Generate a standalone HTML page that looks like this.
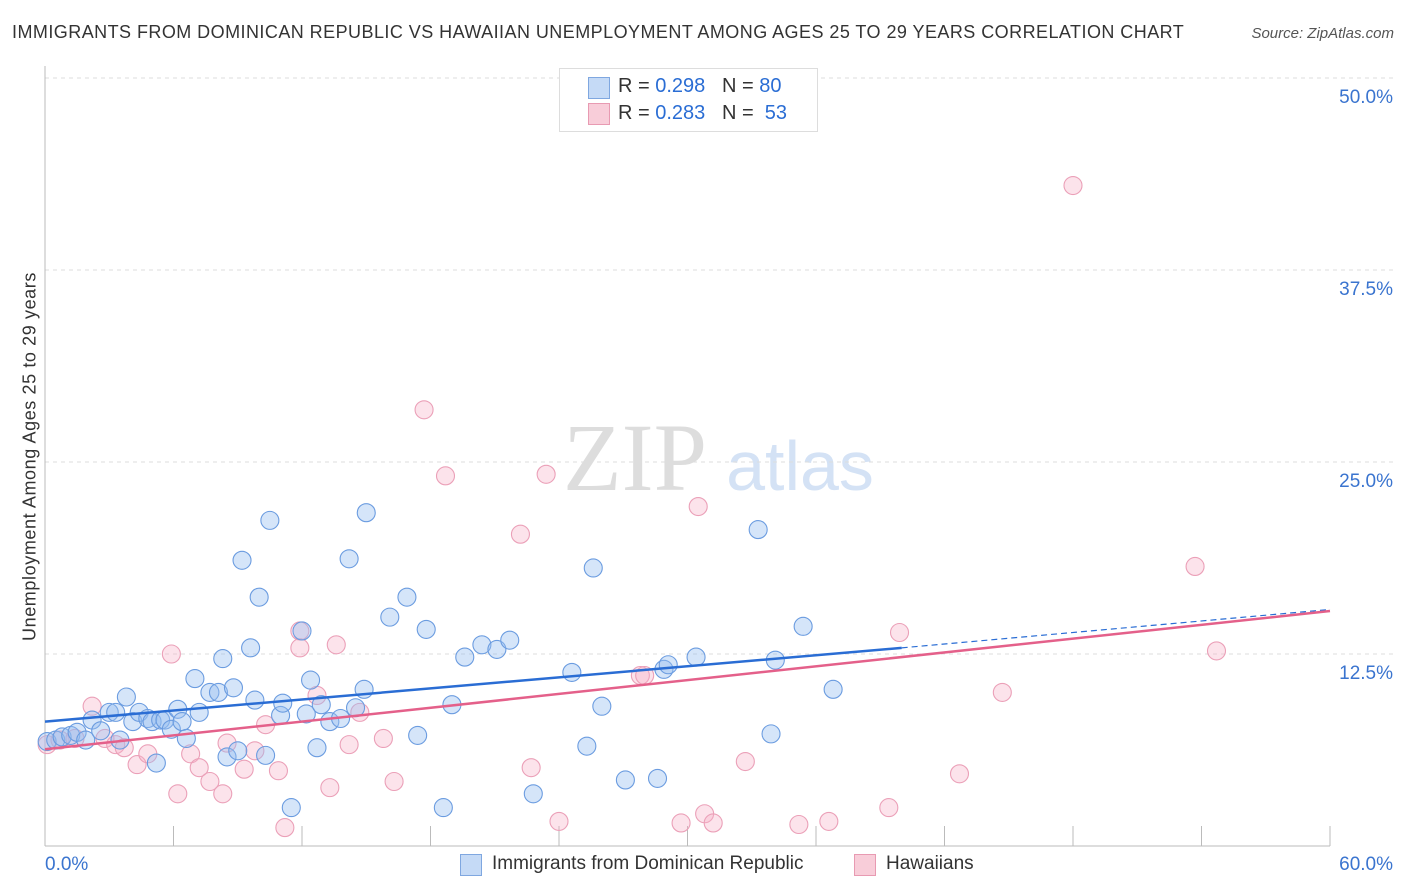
<!DOCTYPE html>
<html><head><meta charset="utf-8"><style>
body{margin:0;background:#fff;font-family:"Liberation Sans",sans-serif}
#wrap{position:relative;width:1406px;height:892px;overflow:hidden}
.t{position:absolute;white-space:nowrap}
</style></head><body>
<div id="wrap">
<div class="t" style="left:12px;top:22px;font-size:18px;color:#333;letter-spacing:0.45px">IMMIGRANTS FROM DOMINICAN REPUBLIC VS HAWAIIAN UNEMPLOYMENT AMONG AGES 25 TO 29 YEARS CORRELATION CHART</div>
<div class="t" style="right:12px;top:25px;font-size:15px;color:#555;font-style:italic">Source: ZipAtlas.com</div>
<div class="t" style="left:-170px;top:446px;width:400px;text-align:center;transform:rotate(-90deg);font-size:18px;letter-spacing:0.6px;color:#333">Unemployment Among Ages 25 to 29 years</div>
<svg id="plot" width="1406" height="892" style="position:absolute;left:0;top:0">
<text x="635" y="490" font-family="Liberation Serif" font-size="96" fill="#ddd" text-anchor="middle">ZIP</text>
<text x="800" y="490" font-family="Liberation Sans" font-size="70" fill="#d4e2f5" text-anchor="middle">atlas</text>
</svg>
<div style="position:absolute;left:559px;top:68px;width:257px;height:62px;border:1px solid #ddd;background:#fff;font-size:20px;color:#333">
 <div style="position:absolute;left:28px;top:8px;width:20px;height:20px;background:#c5daf6;border:1px solid #7fa7e0"></div>
 <div class="t" style="left:58px;top:6px">R = <span style="color:#2a6dd4">0.298</span> &nbsp;&nbsp;N = <span style="color:#2a6dd4">80</span></div>
 <div style="position:absolute;left:28px;top:34px;width:20px;height:20px;background:#f8cdd9;border:1px solid #e89ab2"></div>
 <div class="t" style="left:58px;top:33px">R = <span style="color:#2a6dd4">0.283</span> &nbsp;&nbsp;N = <span style="color:#2a6dd4">&nbsp;53</span></div>
</div>
<div style="position:absolute;left:460px;top:853px;font-size:19px;color:#333">
 <div style="position:absolute;left:0;top:1px;width:20px;height:20px;background:#c5daf6;border:1px solid #7fa7e0"></div>
 <div class="t" style="left:32px;top:0">Immigrants from Dominican Republic</div>
 <div style="position:absolute;left:394px;top:1px;width:20px;height:20px;background:#f8cdd9;border:1px solid #e89ab2"></div>
 <div class="t" style="left:426px;top:0">Hawaiians</div>
</div>
</div>
<script>
const yTicks=[12.5,25,37.5,50];
const yTickLabels=["12.5%","25.0%","37.5%","50.0%"];
const xTickLabels=["0.0%","60.0%"];
const blueX=[0.1,0.5,0.8,1.2,1.5,1.9,2.2,2.6,3.0,3.3,3.5,3.8,4.1,4.4,4.8,5.0,5.2,5.4,5.6,5.9,6.2,6.4,6.6,7.0,7.2,7.7,8.1,8.3,8.5,8.8,9.0,9.2,9.6,9.8,10.0,10.3,10.5,11.0,11.1,11.5,12.0,12.2,12.4,12.7,12.9,13.3,13.8,14.2,14.5,14.9,15.0,16.1,16.9,17.4,17.8,18.6,19.0,19.6,20.4,21.1,21.7,22.8,24.6,25.3,25.6,26.0,27.1,28.6,28.9,29.1,30.4,33.3,33.9,34.1,35.4,36.8];
const blueY=[6.8,6.9,7.1,7.2,7.4,6.9,8.2,7.5,8.7,8.7,6.9,9.7,8.1,8.7,8.3,8.1,5.4,8.2,8.2,7.6,8.9,8.1,7.0,10.9,8.7,10.0,10.0,12.2,5.8,10.3,6.2,18.6,12.9,9.5,16.2,5.9,21.2,8.5,9.3,2.5,14.0,8.6,10.8,6.4,9.2,8.1,8.3,18.7,9.0,10.2,21.7,14.9,16.2,7.2,14.1,2.5,9.2,12.3,13.1,12.8,13.4,3.4,11.3,6.5,18.1,9.1,4.3,4.4,11.5,11.8,12.3,20.6,7.3,12.1,14.3,10.2];
const pinkX=[0.1,0.7,1.4,2.2,2.8,3.3,3.7,4.3,4.8,5.9,6.2,6.8,7.2,7.7,8.3,8.5,9.3,9.8,10.3,10.9,11.2,11.9,11.9,12.7,13.3,13.6,14.2,14.7,15.8,16.3,17.7,18.7,22.2,22.7,23.4,24.0,27.8,29.7,30.5,30.8,31.2,32.7,35.2,36.6,39.4,39.9,42.7,44.7,48.0,53.7,54.7,28.0];
const pinkY=[6.6,6.9,7.0,9.1,7.0,6.6,6.4,5.3,6.0,12.5,3.4,6.0,5.1,4.2,3.4,6.7,5.0,6.2,7.9,4.9,1.2,14.0,12.9,9.8,3.8,13.1,6.6,8.7,7.0,4.2,28.4,24.1,20.3,5.1,24.2,1.6,11.1,1.5,22.1,2.1,1.5,5.5,1.4,1.6,2.5,13.9,4.7,10.0,43.0,18.2,12.7,11.1];
const blueLine=[[0,8.1],[40,12.9],[60,15.4]];
const pinkLine=[[0,6.3],[60,15.3]];
const X0=45,X1=1330,Y0=846,YPX=192/12.5;
const sx=v=>X0+(v/60)*(X1-X0), sy=v=>Y0-v*YPX;
const svg=document.getElementById('plot'),NS='http://www.w3.org/2000/svg';
function mk(t,a){const e=document.createElementNS(NS,t);for(const k in a)e.setAttribute(k,a[k]);svg.appendChild(e);return e;}
yTicks.forEach((v,i)=>{
 const g=mk('line',{x1:X0,x2:1395,y1:sy(v),y2:sy(v),stroke:'#ddd','stroke-dasharray':'4,4'});
 
 
 const t=mk('text',{x:1393,y:sy(v)+25,'text-anchor':'end','font-size':19,fill:'#3a74cf','font-family':'Liberation Sans'});
 t.textContent=yTickLabels[i];
 
 
});
for(let i=1;i<=10;i++){const x=sx(i*6);const l=mk('line',{x1:x,x2:x,y1:826,y2:846,stroke:'#bbb'});
 
 }
let a=mk('line',{x1:X0,x2:X0,y1:66,y2:846,stroke:'#bbb'});


a=mk('line',{x1:X0,x2:X1,y1:846,y2:846,stroke:'#bbb'});


xTickLabels.forEach((s,i)=>{const t=mk('text',{x:i?1393:45,y:870,'text-anchor':i?'end':'start','font-size':19,fill:'#3a74cf','font-family':'Liberation Sans'});t.textContent=s;
 
 });
pinkX.forEach((v,i)=>{const c=mk('circle',{cx:sx(v),cy:sy(pinkY[i]),r:9,fill:'rgba(245,175,198,0.35)',stroke:'#eba0b8','stroke-width':1.1});
 
 });
blueX.forEach((v,i)=>{const c=mk('circle',{cx:sx(v),cy:sy(blueY[i]),r:9,fill:'rgba(150,190,240,0.4)',stroke:'#6b9ce0','stroke-width':1.1});
 
 });
let l=mk('line',{x1:sx(blueLine[0][0]),y1:sy(blueLine[0][1]),x2:sx(blueLine[1][0]),y2:sy(blueLine[1][1]),stroke:'#2a6dd4','stroke-width':2.5});


l=mk('line',{x1:sx(blueLine[1][0]),y1:sy(blueLine[1][1]),x2:sx(blueLine[2][0]),y2:sy(blueLine[2][1]),stroke:'#2a6dd4','stroke-width':1.2,'stroke-dasharray':'6,4'});


l=mk('line',{x1:sx(pinkLine[0][0]),y1:sy(pinkLine[0][1]),x2:sx(pinkLine[1][0]),y2:sy(pinkLine[1][1]),stroke:'#e4608a','stroke-width':2.5});


</script>
</body></html>
